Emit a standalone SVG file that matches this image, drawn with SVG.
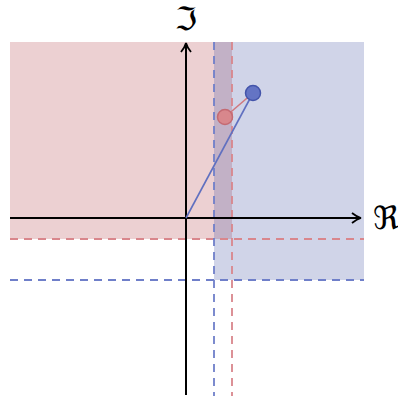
<svg xmlns="http://www.w3.org/2000/svg" width="398" height="396" viewBox="0 0 398 396">
<style>
.dr{stroke:#d9868c;stroke-width:1.8;stroke-dasharray:8 6;fill:none}
.db{stroke:#6f7fc9;stroke-width:1.8;stroke-dasharray:8 6;fill:none}
.ax{stroke:#000;stroke-width:2;fill:none}
.lbl{font-family:"DejaVu Sans",serif;font-size:32px;fill:#000}
</style>
<defs>
<marker id="arr" viewBox="0 0 12 12" refX="10" refY="6" markerWidth="12" markerHeight="12" markerUnits="userSpaceOnUse" orient="auto">
<path d="M1,1 Q6,5 10,6 Q6,7 1,11" fill="none" stroke="#000" stroke-width="1.8"/>
</marker>
</defs>
<g id="regions">
<rect x="10" y="42" width="222" height="197" fill="#b3434b" fill-opacity="0.25"/>
<rect x="214" y="42" width="150" height="238" fill="#4353a3" fill-opacity="0.25"/>
</g>
<g id="connectors">
<line class="dr" x1="10" y1="239" x2="364" y2="239"/>
<line class="db" x1="10" y1="280" x2="364" y2="280"/>
<line class="db" x1="214" y1="42" x2="214" y2="396"/>
<line class="dr" x1="232" y1="42" x2="232" y2="396"/>
<line class="ax" x1="10" y1="218" x2="361" y2="218" marker-end="url(#arr)"/>
<line class="ax" x1="186" y1="395" x2="186" y2="43" marker-end="url(#arr)"/>
<line x1="186" y1="218" x2="253" y2="93" stroke="#6070c0" stroke-width="1.6"/>
<line x1="225" y1="117" x2="253" y2="93" stroke="#d0787e" stroke-width="1.6"/>
</g>
<g id="z1">
<circle cx="225" cy="117" r="7.5" fill="#d8878c" stroke="#c46a72" stroke-width="1.5"/>
</g>
<g id="z2">
<circle cx="253" cy="93" r="7.5" fill="#6474c4" stroke="#4354aa" stroke-width="1.5"/>
</g>
<g id="labels">
<text class="lbl" x="186" y="30" text-anchor="middle">ℑ</text>
<text class="lbl" x="386" y="229" text-anchor="middle">ℜ</text>
</g>
</svg>
